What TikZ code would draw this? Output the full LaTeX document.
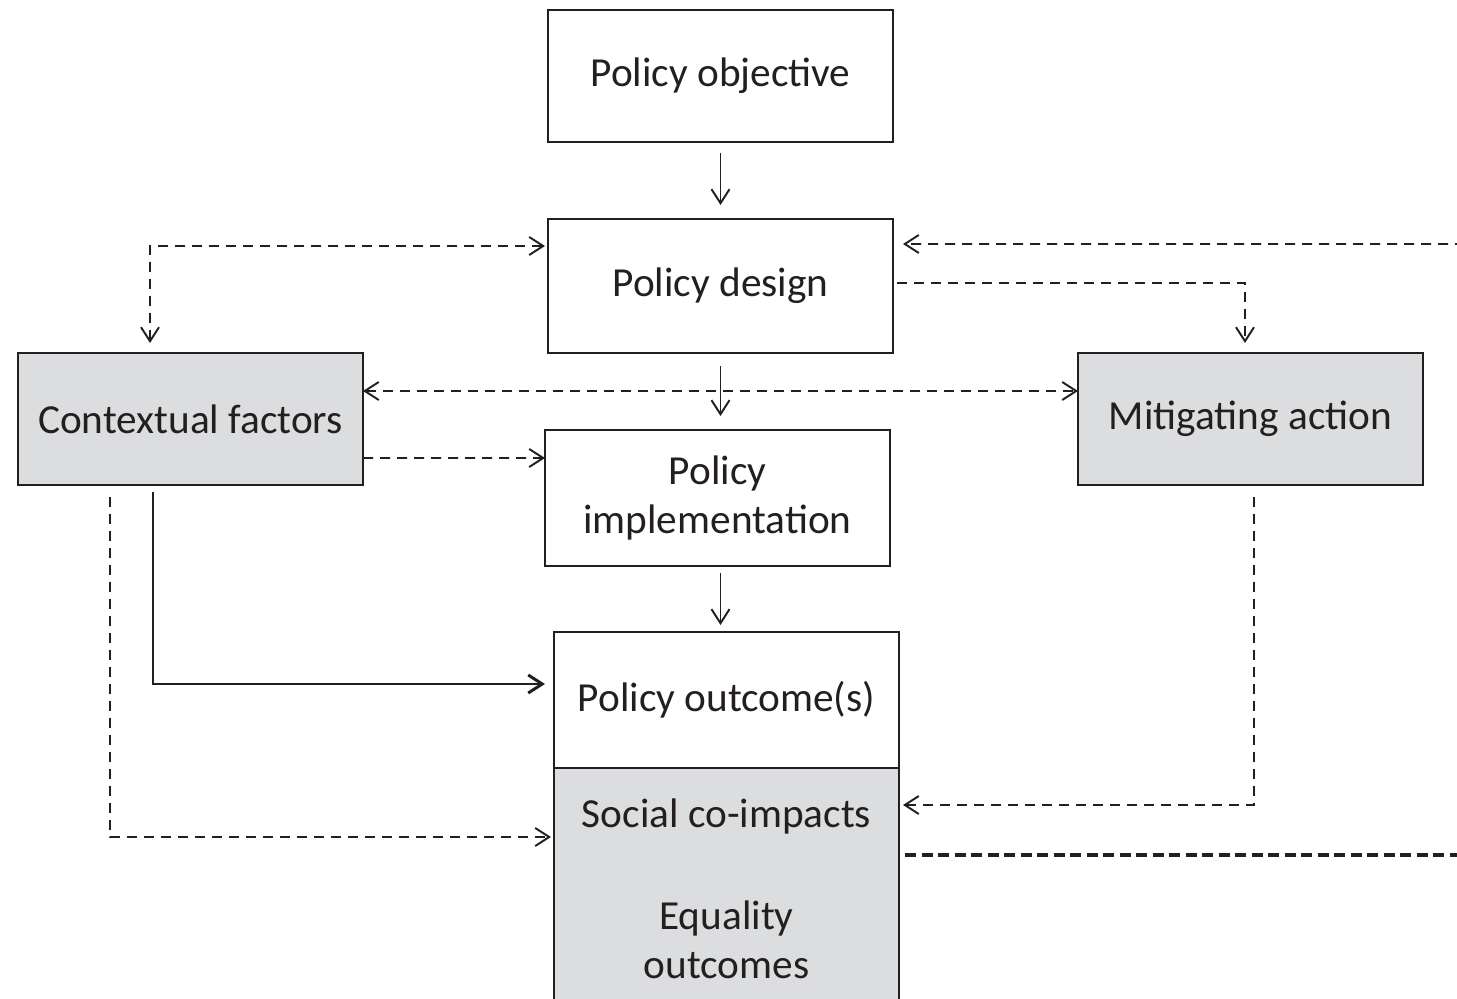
\documentclass[tikz,border=0pt]{standalone}
\usepackage{fontspec}
\setmainfont{Carlito}
\usetikzlibrary{arrows.meta, positioning}

\definecolor{ink}{RGB}{35,31,32}
\definecolor{boxgray}{RGB}{220,221,222}

\begin{document}
\begin{tikzpicture}[
    box/.style={draw=ink, line width=1.1pt, align=center, text=ink,
                font=\fontsize{23.5}{27.8}\selectfont, outer sep=0pt,
                minimum width=6.9cm, minimum height=2.64cm, inner sep=3pt},
    shaded/.style={box, fill=boxgray},
    barb/.tip={Straight Barb[length=0.28cm,width=0.36cm]},
    arr/.style={draw=ink, line width=1.1pt, -barb},
    darr/.style={arr, dash pattern=on 0.2cm off 0.14cm},
    fb/.style={draw=ink, line width=1.8pt, dash pattern=on 0.22cm off 0.11cm},
    node distance=1.54cm and 3.7cm
  ]
    \clip (0,0) rectangle (29.14,-19.98);

    \node[box] (obj) at (14.41,-1.52) {Policy objective};
    \node[box, below=of obj, minimum height=2.68cm] (design) {Policy design};
    \node[shaded, below left=0cm and 3.7cm of design] (ctx) {Contextual factors};
    \node[shaded, below right=0cm and 3.7cm of design] (mit) {Mitigating action};
    \node[box, below=of design, xshift=-0.06cm, minimum height=2.72cm] (impl) {Policy\\implementation};
    \node[box, below=1.32cm of impl, xshift=0.18cm, minimum height=2.72cm] (outcome) {Policy outcome(s)};
    \node[shaded, below=0cm of outcome, minimum height=4.84cm] (social)
        {Social co-impacts\\[1.06cm]Equality\\outcomes};

    % free ends at the right edge
    \coordinate (fbtop) at (29.3,-4.88);
    \coordinate (fbbot) at (29.3,-17.1);

    % main chain
    \draw[arr] ([yshift=-0.22cm]obj.south) -- ([yshift=0.28cm]design.north);
    \draw[arr] ([yshift=-0.26cm]design.south) -- ([xshift=0.06cm,yshift=0.28cm]impl.north);
    \draw[arr] ([xshift=0.06cm,yshift=-0.14cm]impl.south) -- ([xshift=-0.12cm,yshift=0.14cm]outcome.north);

    % design links
    \draw[darr, barb-barb] ([xshift=-0.06cm,yshift=0.8cm]design.west)
        -| ([xshift=-0.81cm,yshift=0.2cm]ctx.north);
    \draw[darr] (fbtop) -- ([xshift=0.2cm,yshift=0.84cm]design.east);
    \draw[darr] ([xshift=0.08cm,yshift=0.06cm]design.east) -| ([xshift=-0.11cm,yshift=0.2cm]mit.north);

    % context and mitigation
    \draw[darr, barb-barb] ([yshift=0.56cm]ctx.east) -- ([yshift=0.56cm]mit.west);
    \draw[darr] ([yshift=-0.78cm]ctx.east) -- ([yshift=0.8cm]impl.west);
    \draw[arr, line width=1.7pt] ([xshift=-0.75cm,yshift=-0.14cm]ctx.south)
        |- ([xshift=-0.18cm,yshift=0.32cm]outcome.west);
    \draw[darr] ([xshift=-1.61cm,yshift=-0.24cm]ctx.south)
        |- ([xshift=-0.06cm,yshift=-1.38cm]social.north west);
    \draw[darr] ([xshift=0.07cm,yshift=-0.24cm]mit.south)
        |- ([xshift=0.08cm,yshift=-0.74cm]social.north east);

    % feedback out of the picture
    \draw[fb] ([xshift=0.12cm,yshift=-1.74cm]social.north east) coordinate (fbstart) -- (fbstart -| fbbot);
  \end{tikzpicture}
\end{document}
